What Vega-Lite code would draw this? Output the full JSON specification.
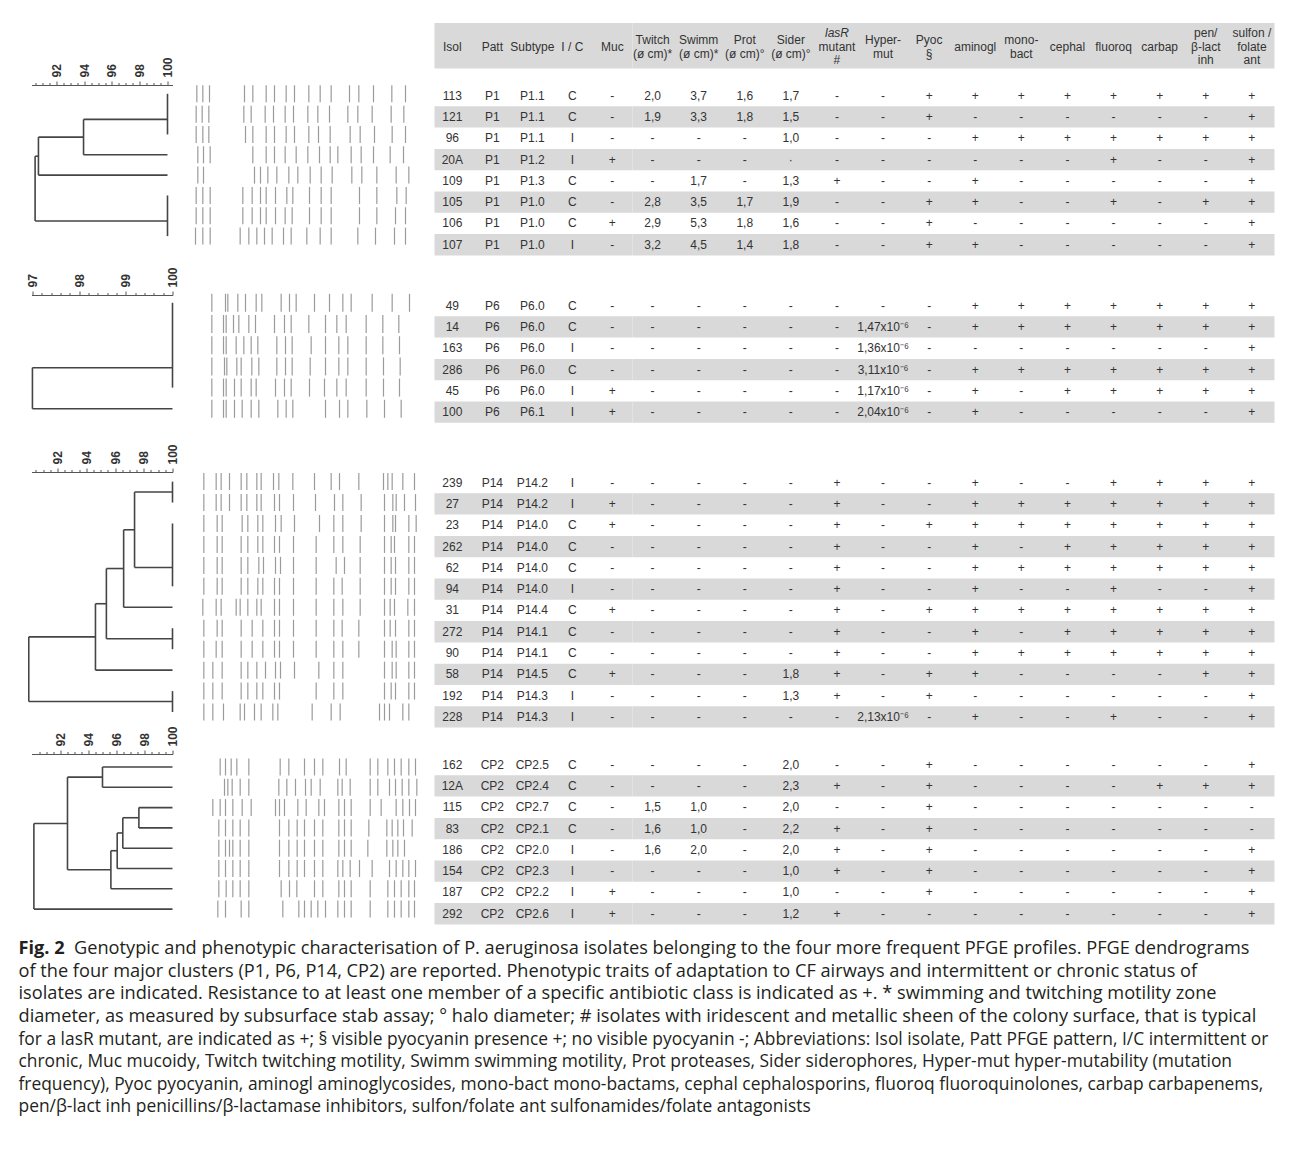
{
  "$schema": "https://vega.github.io/schema/vega-lite/v6.json",
  "padding": {"left": 18.5, "top": 23, "right": 10, "bottom": 10},
  "background": "white",
  "bounds": "flush",
  "columns": 4,
  "spacing": {"row": 16, "column": 0},
  "config": {"view": {"stroke": null}},
  "datasets": {
    "table": [
      {"Isol":"113","Patt":"P1","Subtype":"P1.1","IC":"C","Muc":"-","Twitch":"2,0","Swimm":"3,7","Prot":"1,6","Sider":"1,7","lasR":"-","Hyper":"-","Pyoc":"+","aminogl":"+","monobact":"+","cephal":"+","fluoroq":"+","carbap":"+","pen":"+","sulfon":"+"},
      {"Isol":"121","Patt":"P1","Subtype":"P1.1","IC":"C","Muc":"-","Twitch":"1,9","Swimm":"3,3","Prot":"1,8","Sider":"1,5","lasR":"-","Hyper":"-","Pyoc":"+","aminogl":"-","monobact":"-","cephal":"-","fluoroq":"-","carbap":"-","pen":"-","sulfon":"+"},
      {"Isol":"96","Patt":"P1","Subtype":"P1.1","IC":"I","Muc":"-","Twitch":"-","Swimm":"-","Prot":"-","Sider":"1,0","lasR":"-","Hyper":"-","Pyoc":"-","aminogl":"+","monobact":"+","cephal":"+","fluoroq":"+","carbap":"+","pen":"+","sulfon":"+"},
      {"Isol":"20A","Patt":"P1","Subtype":"P1.2","IC":"I","Muc":"+","Twitch":"-","Swimm":"-","Prot":"-","Sider":"·","lasR":"-","Hyper":"-","Pyoc":"-","aminogl":"-","monobact":"-","cephal":"-","fluoroq":"+","carbap":"-","pen":"-","sulfon":"+"},
      {"Isol":"109","Patt":"P1","Subtype":"P1.3","IC":"C","Muc":"-","Twitch":"-","Swimm":"1,7","Prot":"-","Sider":"1,3","lasR":"+","Hyper":"-","Pyoc":"-","aminogl":"+","monobact":"-","cephal":"-","fluoroq":"-","carbap":"-","pen":"-","sulfon":"+"},
      {"Isol":"105","Patt":"P1","Subtype":"P1.0","IC":"C","Muc":"-","Twitch":"2,8","Swimm":"3,5","Prot":"1,7","Sider":"1,9","lasR":"-","Hyper":"-","Pyoc":"+","aminogl":"+","monobact":"-","cephal":"-","fluoroq":"+","carbap":"-","pen":"+","sulfon":"+"},
      {"Isol":"106","Patt":"P1","Subtype":"P1.0","IC":"C","Muc":"+","Twitch":"2,9","Swimm":"5,3","Prot":"1,8","Sider":"1,6","lasR":"-","Hyper":"-","Pyoc":"+","aminogl":"-","monobact":"-","cephal":"-","fluoroq":"-","carbap":"-","pen":"-","sulfon":"+"},
      {"Isol":"107","Patt":"P1","Subtype":"P1.0","IC":"I","Muc":"-","Twitch":"3,2","Swimm":"4,5","Prot":"1,4","Sider":"1,8","lasR":"-","Hyper":"-","Pyoc":"+","aminogl":"+","monobact":"-","cephal":"-","fluoroq":"-","carbap":"-","pen":"-","sulfon":"+"},
      {"Isol":"49","Patt":"P6","Subtype":"P6.0","IC":"C","Muc":"-","Twitch":"-","Swimm":"-","Prot":"-","Sider":"-","lasR":"-","Hyper":"-","Pyoc":"-","aminogl":"+","monobact":"+","cephal":"+","fluoroq":"+","carbap":"+","pen":"+","sulfon":"+"},
      {"Isol":"14","Patt":"P6","Subtype":"P6.0","IC":"C","Muc":"-","Twitch":"-","Swimm":"-","Prot":"-","Sider":"-","lasR":"-","Hyper":"1,47x10⁻⁶","Pyoc":"-","aminogl":"+","monobact":"+","cephal":"+","fluoroq":"+","carbap":"+","pen":"+","sulfon":"+"},
      {"Isol":"163","Patt":"P6","Subtype":"P6.0","IC":"I","Muc":"-","Twitch":"-","Swimm":"-","Prot":"-","Sider":"-","lasR":"-","Hyper":"1,36x10⁻⁶","Pyoc":"-","aminogl":"-","monobact":"-","cephal":"-","fluoroq":"-","carbap":"-","pen":"-","sulfon":"+"},
      {"Isol":"286","Patt":"P6","Subtype":"P6.0","IC":"C","Muc":"-","Twitch":"-","Swimm":"-","Prot":"-","Sider":"-","lasR":"-","Hyper":"3,11x10⁻⁶","Pyoc":"-","aminogl":"+","monobact":"+","cephal":"+","fluoroq":"+","carbap":"+","pen":"+","sulfon":"+"},
      {"Isol":"45","Patt":"P6","Subtype":"P6.0","IC":"I","Muc":"+","Twitch":"-","Swimm":"-","Prot":"-","Sider":"-","lasR":"-","Hyper":"1,17x10⁻⁶","Pyoc":"-","aminogl":"+","monobact":"-","cephal":"+","fluoroq":"+","carbap":"+","pen":"+","sulfon":"+"},
      {"Isol":"100","Patt":"P6","Subtype":"P6.1","IC":"I","Muc":"+","Twitch":"-","Swimm":"-","Prot":"-","Sider":"-","lasR":"-","Hyper":"2,04x10⁻⁶","Pyoc":"-","aminogl":"+","monobact":"-","cephal":"-","fluoroq":"-","carbap":"-","pen":"-","sulfon":"+"},
      {"Isol":"239","Patt":"P14","Subtype":"P14.2","IC":"I","Muc":"-","Twitch":"-","Swimm":"-","Prot":"-","Sider":"-","lasR":"+","Hyper":"-","Pyoc":"-","aminogl":"+","monobact":"-","cephal":"-","fluoroq":"+","carbap":"+","pen":"+","sulfon":"+"},
      {"Isol":"27","Patt":"P14","Subtype":"P14.2","IC":"I","Muc":"+","Twitch":"-","Swimm":"-","Prot":"-","Sider":"-","lasR":"+","Hyper":"-","Pyoc":"-","aminogl":"+","monobact":"+","cephal":"+","fluoroq":"+","carbap":"+","pen":"+","sulfon":"+"},
      {"Isol":"23","Patt":"P14","Subtype":"P14.0","IC":"C","Muc":"+","Twitch":"-","Swimm":"-","Prot":"-","Sider":"-","lasR":"+","Hyper":"-","Pyoc":"+","aminogl":"+","monobact":"+","cephal":"+","fluoroq":"+","carbap":"+","pen":"+","sulfon":"+"},
      {"Isol":"262","Patt":"P14","Subtype":"P14.0","IC":"C","Muc":"-","Twitch":"-","Swimm":"-","Prot":"-","Sider":"-","lasR":"+","Hyper":"-","Pyoc":"-","aminogl":"+","monobact":"-","cephal":"+","fluoroq":"+","carbap":"+","pen":"+","sulfon":"+"},
      {"Isol":"62","Patt":"P14","Subtype":"P14.0","IC":"C","Muc":"-","Twitch":"-","Swimm":"-","Prot":"-","Sider":"-","lasR":"+","Hyper":"-","Pyoc":"-","aminogl":"+","monobact":"+","cephal":"+","fluoroq":"+","carbap":"+","pen":"+","sulfon":"+"},
      {"Isol":"94","Patt":"P14","Subtype":"P14.0","IC":"I","Muc":"-","Twitch":"-","Swimm":"-","Prot":"-","Sider":"-","lasR":"+","Hyper":"-","Pyoc":"-","aminogl":"+","monobact":"-","cephal":"-","fluoroq":"+","carbap":"-","pen":"-","sulfon":"+"},
      {"Isol":"31","Patt":"P14","Subtype":"P14.4","IC":"C","Muc":"+","Twitch":"-","Swimm":"-","Prot":"-","Sider":"-","lasR":"+","Hyper":"-","Pyoc":"+","aminogl":"+","monobact":"+","cephal":"+","fluoroq":"+","carbap":"+","pen":"+","sulfon":"+"},
      {"Isol":"272","Patt":"P14","Subtype":"P14.1","IC":"C","Muc":"-","Twitch":"-","Swimm":"-","Prot":"-","Sider":"-","lasR":"+","Hyper":"-","Pyoc":"-","aminogl":"+","monobact":"-","cephal":"+","fluoroq":"+","carbap":"+","pen":"+","sulfon":"+"},
      {"Isol":"90","Patt":"P14","Subtype":"P14.1","IC":"C","Muc":"-","Twitch":"-","Swimm":"-","Prot":"-","Sider":"-","lasR":"+","Hyper":"-","Pyoc":"-","aminogl":"+","monobact":"+","cephal":"+","fluoroq":"+","carbap":"+","pen":"+","sulfon":"+"},
      {"Isol":"58","Patt":"P14","Subtype":"P14.5","IC":"C","Muc":"+","Twitch":"-","Swimm":"-","Prot":"-","Sider":"1,8","lasR":"+","Hyper":"-","Pyoc":"+","aminogl":"+","monobact":"-","cephal":"-","fluoroq":"-","carbap":"-","pen":"+","sulfon":"+"},
      {"Isol":"192","Patt":"P14","Subtype":"P14.3","IC":"I","Muc":"-","Twitch":"-","Swimm":"-","Prot":"-","Sider":"1,3","lasR":"+","Hyper":"-","Pyoc":"+","aminogl":"-","monobact":"-","cephal":"-","fluoroq":"-","carbap":"-","pen":"-","sulfon":"+"},
      {"Isol":"228","Patt":"P14","Subtype":"P14.3","IC":"I","Muc":"-","Twitch":"-","Swimm":"-","Prot":"-","Sider":"-","lasR":"-","Hyper":"2,13x10⁻⁶","Pyoc":"-","aminogl":"+","monobact":"-","cephal":"-","fluoroq":"+","carbap":"-","pen":"-","sulfon":"+"},
      {"Isol":"162","Patt":"CP2","Subtype":"CP2.5","IC":"C","Muc":"-","Twitch":"-","Swimm":"-","Prot":"-","Sider":"2,0","lasR":"-","Hyper":"-","Pyoc":"+","aminogl":"-","monobact":"-","cephal":"-","fluoroq":"-","carbap":"-","pen":"-","sulfon":"+"},
      {"Isol":"12A","Patt":"CP2","Subtype":"CP2.4","IC":"C","Muc":"-","Twitch":"-","Swimm":"-","Prot":"-","Sider":"2,3","lasR":"+","Hyper":"-","Pyoc":"+","aminogl":"-","monobact":"-","cephal":"-","fluoroq":"-","carbap":"+","pen":"+","sulfon":"+"},
      {"Isol":"115","Patt":"CP2","Subtype":"CP2.7","IC":"C","Muc":"-","Twitch":"1,5","Swimm":"1,0","Prot":"-","Sider":"2,0","lasR":"-","Hyper":"-","Pyoc":"+","aminogl":"-","monobact":"-","cephal":"-","fluoroq":"-","carbap":"-","pen":"-","sulfon":"-"},
      {"Isol":"83","Patt":"CP2","Subtype":"CP2.1","IC":"C","Muc":"-","Twitch":"1,6","Swimm":"1,0","Prot":"-","Sider":"2,2","lasR":"+","Hyper":"-","Pyoc":"+","aminogl":"-","monobact":"-","cephal":"-","fluoroq":"-","carbap":"-","pen":"-","sulfon":"-"},
      {"Isol":"186","Patt":"CP2","Subtype":"CP2.0","IC":"I","Muc":"-","Twitch":"1,6","Swimm":"2,0","Prot":"-","Sider":"2,0","lasR":"+","Hyper":"-","Pyoc":"+","aminogl":"-","monobact":"-","cephal":"-","fluoroq":"-","carbap":"-","pen":"-","sulfon":"+"},
      {"Isol":"154","Patt":"CP2","Subtype":"CP2.3","IC":"I","Muc":"-","Twitch":"-","Swimm":"-","Prot":"-","Sider":"1,0","lasR":"+","Hyper":"-","Pyoc":"+","aminogl":"-","monobact":"-","cephal":"-","fluoroq":"-","carbap":"-","pen":"-","sulfon":"+"},
      {"Isol":"187","Patt":"CP2","Subtype":"CP2.2","IC":"I","Muc":"+","Twitch":"-","Swimm":"-","Prot":"-","Sider":"1,0","lasR":"-","Hyper":"-","Pyoc":"+","aminogl":"-","monobact":"-","cephal":"-","fluoroq":"-","carbap":"-","pen":"-","sulfon":"+"},
      {"Isol":"292","Patt":"CP2","Subtype":"CP2.6","IC":"I","Muc":"+","Twitch":"-","Swimm":"-","Prot":"-","Sider":"1,2","lasR":"+","Hyper":"-","Pyoc":"-","aminogl":"-","monobact":"-","cephal":"-","fluoroq":"-","carbap":"-","pen":"-","sulfon":"+"}
    ],
    "header": [
      {"key":"Isol","g":"A","label":"Isol"},
      {"key":"Patt","g":"A","label":"Patt"},
      {"key":"Subtype","g":"A","label":"Subtype"},
      {"key":"IC","g":"A","label":"I / C"},
      {"key":"Muc","g":"A","label":"Muc"},
      {"key":"Twitch","g":"B","label":"Twitch\n(ø cm)*"},
      {"key":"Swimm","g":"B","label":"Swimm\n(ø cm)*"},
      {"key":"Prot","g":"B","label":"Prot\n(ø cm)°"},
      {"key":"Sider","g":"B","label":"Sider\n(ø cm)°"},
      {"key":"lasR","g":"B","label":"\nmutant\n#","it":"lasR"},
      {"key":"Hyper","g":"B","label":"Hyper-\nmut"},
      {"key":"Pyoc","g":"B","label":"Pyoc\n§"},
      {"key":"aminogl","g":"B","label":"aminogl"},
      {"key":"monobact","g":"B","label":"mono-\nbact"},
      {"key":"cephal","g":"B","label":"cephal"},
      {"key":"fluoroq","g":"B","label":"fluoroq"},
      {"key":"carbap","g":"B","label":"carbap"},
      {"key":"pen","g":"B","label":"pen/\nβ-lact\ninh"},
      {"key":"sulfon","g":"B","label":"sulfon /\nfolate\nant"}
    ],
    "dend": [
      {"c":"P1","x1":100,"x2":100,"y1":0,"y2":2},
      {"c":"P1","x1":93.95,"x2":100,"y1":1.26,"y2":1.26},
      {"c":"P1","x1":93.95,"x2":100,"y1":3,"y2":3},
      {"c":"P1","x1":93.95,"x2":93.95,"y1":1.26,"y2":3},
      {"c":"P1","x1":90.7,"x2":93.95,"y1":2.13,"y2":2.13},
      {"c":"P1","x1":90.7,"x2":100,"y1":4,"y2":4},
      {"c":"P1","x1":90.7,"x2":90.7,"y1":2.13,"y2":4},
      {"c":"P1","x1":90.46,"x2":90.7,"y1":3.07,"y2":3.07},
      {"c":"P1","x1":100,"x2":100,"y1":5,"y2":7},
      {"c":"P1","x1":90.46,"x2":100,"y1":6.26,"y2":6.26},
      {"c":"P1","x1":90.46,"x2":90.46,"y1":3.07,"y2":6.26},
      {"c":"P6","x1":100,"x2":100,"y1":0,"y2":4},
      {"c":"P6","x1":97,"x2":100,"y1":3.06,"y2":3.06},
      {"c":"P6","x1":97,"x2":100,"y1":5,"y2":5},
      {"c":"P6","x1":97,"x2":97,"y1":3.06,"y2":5},
      {"c":"P14","x1":100,"x2":100,"y1":0,"y2":1},
      {"c":"P14","x1":97.36,"x2":100,"y1":0.5,"y2":0.5},
      {"c":"P14","x1":100,"x2":100,"y1":2,"y2":5},
      {"c":"P14","x1":97.36,"x2":100,"y1":4.1,"y2":4.1},
      {"c":"P14","x1":97.36,"x2":97.36,"y1":0.5,"y2":4.1},
      {"c":"P14","x1":96.6,"x2":97.36,"y1":2.3,"y2":2.3},
      {"c":"P14","x1":96.6,"x2":100,"y1":6,"y2":6},
      {"c":"P14","x1":96.6,"x2":96.6,"y1":2.3,"y2":6},
      {"c":"P14","x1":95.4,"x2":96.6,"y1":4.15,"y2":4.15},
      {"c":"P14","x1":100,"x2":100,"y1":7,"y2":8},
      {"c":"P14","x1":95.4,"x2":100,"y1":7.5,"y2":7.5},
      {"c":"P14","x1":95.4,"x2":95.4,"y1":4.15,"y2":7.5},
      {"c":"P14","x1":94.64,"x2":95.4,"y1":5.83,"y2":5.83},
      {"c":"P14","x1":94.64,"x2":100,"y1":9,"y2":9},
      {"c":"P14","x1":94.64,"x2":94.64,"y1":5.83,"y2":9},
      {"c":"P14","x1":90.0,"x2":94.64,"y1":7.41,"y2":7.41},
      {"c":"P14","x1":100,"x2":100,"y1":10,"y2":11},
      {"c":"P14","x1":90.0,"x2":100,"y1":10.5,"y2":10.5},
      {"c":"P14","x1":90.0,"x2":90.0,"y1":7.41,"y2":10.5},
      {"c":"CP2","x1":95.0,"x2":100,"y1":0,"y2":0},
      {"c":"CP2","x1":95.0,"x2":100,"y1":1,"y2":1},
      {"c":"CP2","x1":95.0,"x2":95.0,"y1":0,"y2":1},
      {"c":"CP2","x1":97.6,"x2":100,"y1":2,"y2":2},
      {"c":"CP2","x1":97.6,"x2":100,"y1":3,"y2":3},
      {"c":"CP2","x1":97.6,"x2":97.6,"y1":2,"y2":3},
      {"c":"CP2","x1":96.45,"x2":97.6,"y1":2.5,"y2":2.5},
      {"c":"CP2","x1":96.45,"x2":100,"y1":4,"y2":4},
      {"c":"CP2","x1":96.45,"x2":96.45,"y1":2.5,"y2":4},
      {"c":"CP2","x1":96.05,"x2":96.45,"y1":3.25,"y2":3.25},
      {"c":"CP2","x1":96.05,"x2":100,"y1":5,"y2":5},
      {"c":"CP2","x1":96.05,"x2":96.05,"y1":3.25,"y2":5},
      {"c":"CP2","x1":95.6,"x2":96.05,"y1":4.125,"y2":4.125},
      {"c":"CP2","x1":95.6,"x2":100,"y1":6,"y2":6},
      {"c":"CP2","x1":95.6,"x2":95.6,"y1":4.125,"y2":6},
      {"c":"CP2","x1":92.5,"x2":95.0,"y1":0.5,"y2":0.5},
      {"c":"CP2","x1":92.5,"x2":95.6,"y1":5.06,"y2":5.06},
      {"c":"CP2","x1":92.5,"x2":92.5,"y1":0.5,"y2":5.06},
      {"c":"CP2","x1":90.1,"x2":92.5,"y1":2.78,"y2":2.78},
      {"c":"CP2","x1":90.1,"x2":100,"y1":7,"y2":7},
      {"c":"CP2","x1":90.1,"x2":90.1,"y1":2.78,"y2":7}
    ],
    "bands": [
      {"c":"P1","i":0,"b":[592,610,630,735,760,800,825,860,885,928,962,995,1050,1078,1122,1177,1218]},
      {"c":"P1","i":1,"b":[590,608,628,733,755,797,822,857,882,925,955,990,1045,1075,1118,1175,1213]},
      {"c":"P1","i":2,"b":[590,610,628,738,760,800,825,860,885,928,957,992,1052,1082,1125,1178,1218]},
      {"c":"P1","i":3,"b":[595,612,632,760,800,825,857,890,925,960,992,1015,1055,1085,1122,1172,1212]},
      {"c":"P1","i":4,"b":[595,612,765,783,805,832,868,895,932,965,998,1057,1087,1132,1190,1228]},
      {"c":"P1","i":5,"b":[590,610,632,730,758,783,800,828,862,880,930,965,995,1080,1132,1192,1220]},
      {"c":"P1","i":6,"b":[590,610,632,730,758,783,800,828,857,878,930,965,995,1080,1132,1188,1218]},
      {"c":"P1","i":7,"b":[588,610,632,722,748,772,795,818,852,875,922,962,995,1075,1128,1185,1218]},
      {"c":"P6","i":0,"b":[637,678,685,715,738,770,787,845,870,890,945,990,1030,1055,1118,1178,1230]},
      {"c":"P6","i":1,"b":[637,672,680,702,718,748,768,825,855,875,928,978,1012,1040,1100,1150,1198]},
      {"c":"P6","i":2,"b":[637,672,680,710,733,755,775,832,858,878,935,978,1018,1045,1100,1150,1200]},
      {"c":"P6","i":3,"b":[637,675,682,712,725,757,778,832,858,878,932,978,1018,1045,1100,1152,1202]},
      {"c":"P6","i":4,"b":[637,672,680,705,725,755,770,828,855,875,930,975,1012,1040,1100,1152,1200]},
      {"c":"P6","i":5,"b":[637,672,680,705,728,755,778,835,860,880,978,1020,1045,1102,1155,1205]},
      {"c":"P14","i":0,"b":[613,650,665,690,725,742,772,785,822,838,880,945,995,1020,1078,1152,1165,1178,1210,1245]},
      {"c":"P14","i":1,"b":[613,650,665,690,725,742,772,785,825,840,882,948,1005,1030,1085,1155,1180,1190,1215,1248]},
      {"c":"P14","i":2,"b":[613,653,668,728,745,775,790,828,845,885,960,1003,1030,1085,1155,1180,1188,1228,1250]},
      {"c":"P14","i":3,"b":[613,653,668,725,745,775,790,825,840,882,950,1003,1030,1082,1155,1175,1185,1228,1245]},
      {"c":"P14","i":4,"b":[613,653,668,725,745,778,792,828,843,882,950,1010,1035,1082,1155,1175,1188,1228,1245]},
      {"c":"P14","i":5,"b":[613,653,668,725,745,775,790,825,840,882,950,1003,1028,1082,1155,1175,1188,1228,1245]},
      {"c":"P14","i":6,"b":[610,650,665,710,722,745,772,785,825,840,882,950,1003,1030,1082,1155,1172,1185,1225,1245]},
      {"c":"P14","i":7,"b":[613,653,668,725,758,790,825,840,882,950,1003,1028,1078,1155,1172,1188,1228,1245]},
      {"c":"P14","i":8,"b":[613,650,668,725,758,790,825,840,882,950,1003,1030,1078,1155,1178,1190,1228,1245]},
      {"c":"P14","i":9,"b":[613,640,668,725,745,772,798,828,843,885,958,1003,1030,1155,1178,1190,1228,1245]},
      {"c":"P14","i":10,"b":[613,640,668,725,745,772,790,825,840,950,1003,1030,1155,1175,1188,1228,1245]},
      {"c":"P14","i":11,"b":[613,640,672,722,735,765,785,820,835,938,995,1022,1140,1155,1170,1210,1228]},
      {"c":"CP2","i":0,"b":[662,678,695,712,748,842,868,915,945,970,1020,1040,1112,1135,1165,1185,1205,1228,1248]},
      {"c":"CP2","i":1,"b":[675,685,698,722,748,838,862,888,918,935,962,1015,1028,1052,1112,1135,1170,1188,1208,1228,1252]},
      {"c":"CP2","i":2,"b":[640,662,678,700,728,755,828,840,855,895,920,958,975,1018,1035,1055,1112,1145,1190,1210,1230,1248]},
      {"c":"CP2","i":3,"b":[658,678,700,722,748,840,868,893,915,945,970,1018,1035,1055,1108,1162,1178,1195,1212,1238]},
      {"c":"CP2","i":4,"b":[658,678,690,700,722,748,840,868,893,915,945,970,1018,1035,1055,1105,1162,1180,1195,1215]},
      {"c":"CP2","i":5,"b":[658,678,700,722,748,840,868,893,915,945,970,1015,1030,1052,1080,1118,1170,1190,1210,1228,1248]},
      {"c":"CP2","i":6,"b":[658,680,700,722,748,845,870,892,945,970,1018,1035,1055,1112,1165,1185,1205,1228,1245]},
      {"c":"CP2","i":7,"b":[655,678,725,748,850,898,915,935,955,978,1015,1035,1055,1112,1165,1185,1205,1228,1245]}
    ],
    "caption": [
      {"line":1,"fig":"Fig. 2","text":"Genotypic and phenotypic characterisation of P. aeruginosa isolates belonging to the four more frequent PFGE profiles. PFGE dendrograms"},
      {"line":2,"text":"of the four major clusters (P1, P6, P14, CP2) are reported. Phenotypic traits of adaptation to CF airways and intermittent or chronic status of"},
      {"line":3,"text":"isolates are indicated. Resistance to at least one member of a specific antibiotic class is indicated as +. * swimming and twitching motility zone"},
      {"line":4,"text":"diameter, as measured by subsurface stab assay; ° halo diameter; # isolates with iridescent and metallic sheen of the colony surface, that is typical"},
      {"line":5,"text":"for a lasR mutant, are indicated as +; § visible pyocyanin presence +; no visible pyocyanin -; Abbreviations: Isol isolate, Patt PFGE pattern, I/C intermittent or"},
      {"line":6,"text":"chronic, Muc mucoidy, Twitch twitching motility, Swimm swimming motility, Prot proteases, Sider siderophores, Hyper-mut hyper-mutability (mutation"},
      {"line":7,"text":"frequency), Pyoc pyocyanin, aminogl aminoglycosides, mono-bact mono-bactams, cephal cephalosporins, fluoroq fluoroquinolones, carbap carbapenems,"},
      {"line":8,"text":"pen/β-lact inh penicillins/β-lactamase inhibitors, sulfon/folate ant sulfonamides/folate antagonists"}
    ]
  },
  "concat": [
    {"width": 141, "height": 45.5, "data": {"values": []}, "mark": "point"},
    {"width": 262, "height": 45.5, "data": {"values": []}, "mark": "point"},
    {"width": 198, "height": 45.5, "view": {"fill": "#d9d9d9", "stroke": null},
     "data": {"name": "header"}, "transform": [{"filter": "datum.g == 'A'"}],
     "mark": {"type": "text", "font": "Liberation Sans", "fontSize": 12, "color": "#333333", "baseline": "middle", "dy": 1},
     "encoding": {
       "x": {"field": "key", "type": "nominal", "scale": {"type": "point", "domain": ["Isol","Patt","Subtype","IC","Muc"], "padding": 0.475, "align": 0.47}, "axis": null},
       "text": {"field": "label"}}},
    {"width": 642, "height": 45.5, "view": {"fill": "#d9d9d9", "stroke": null},
     "data": {"name": "header"}, "transform": [{"filter": "datum.g == 'B'"}],
     "encoding": {
       "x": {"field": "key", "type": "nominal", "scale": {"type": "point", "domain": ["Twitch","Swimm","Prot","Sider","lasR","Hyper","Pyoc","aminogl","monobact","cephal","fluoroq","carbap","pen","sulfon"], "padding": 0.463, "align": 0.47}, "axis": null}},
     "layer": [
       {"transform": [{"filter": "indexof(datum.label, '\\n') < 0"}],
        "mark": {"type": "text", "font": "Liberation Sans", "fontSize": 12, "color": "#333333", "baseline": "middle", "dy": 1},
        "encoding": {"text": {"field": "label"}}},
       {"transform": [{"filter": "indexof(datum.label, '\\n') >= 0 && indexof(datum.label, '\\n') == lastindexof(datum.label, '\\n')"}],
        "mark": {"type": "text", "font": "Liberation Sans", "fontSize": 12, "color": "#333333", "lineBreak": "\n", "lineHeight": 13.5, "baseline": "middle", "dy": -5.75},
        "encoding": {"text": {"field": "label"}}},
       {"transform": [{"filter": "indexof(datum.label, '\\n') >= 0 && indexof(datum.label, '\\n') != lastindexof(datum.label, '\\n')"}],
        "mark": {"type": "text", "font": "Liberation Sans", "fontSize": 12, "color": "#333333", "lineBreak": "\n", "lineHeight": 13.5, "baseline": "middle", "dy": -12.5},
        "encoding": {"text": {"field": "label"}}},
       {"transform": [{"filter": "datum.it"}],
        "mark": {"type": "text", "font": "Liberation Sans", "fontSize": 12, "fontStyle": "italic", "color": "#333333", "baseline": "middle", "dy": -12.5},
        "encoding": {"text": {"field": "it"}}}
     ]},

    {"width": 141, "height": 193.2, "data": {"name": "dend"}, "transform": [{"filter": "datum.c == 'P1'"}],
     "mark": {"type": "rule", "color": "#454545", "strokeWidth": 1.6},
     "encoding": {
       "x": {"field": "x1", "type": "quantitative", "scale": {"domain": [90.2, 100.36], "nice": false, "zero": false},
             "axis": {"orient": "top", "title": null, "grid": false, "values": [90.5,91,91.5,92,92.5,93,93.5,94,94.5,95,95.5,96,96.5,97,97.5,98,98.5,99,99.5,100],
                      "labelExpr": "datum.value % 2 == 0 ? datum.value : ''", "labelAngle": -90, "labelOverlap": false, "labelFlush": false,
                      "labelFont": "Liberation Sans", "labelFontSize": 12, "labelFontWeight": "bold", "labelColor": "#333333", "labelPadding": 4,
                      "tickSize": {"condition": {"test": "datum.value % 2 == 0", "value": 4}, "value": 2.5},
                      "tickColor": "#555555", "domainColor": "#555555", "tickWidth": 1, "domainWidth": 1}},
       "x2": {"field": "x2"},
       "y": {"field": "y1", "type": "quantitative", "scale": {"domain": [-0.433, 9.07], "reverse": true, "nice": false, "zero": false}, "axis": null},
       "y2": {"field": "y2"}}},
    {"width": 262, "height": 193.2, "data": {"name": "bands"}, "transform": [{"filter": "datum.c == 'P1'"}, {"flatten": ["b"]}],
     "mark": {"type": "tick", "orient": "vertical", "color": "#9b9b9b", "size": 17, "thickness": 1.2, "opacity": 1},
     "encoding": {
       "x": {"field": "b", "type": "quantitative", "scale": {"domain": [519, 1305], "nice": false, "zero": false}, "axis": null},
       "y": {"field": "i", "type": "quantitative", "scale": {"domain": [-0.433, 9.07], "reverse": true, "nice": false, "zero": false}, "axis": null}}},
    {"width": 198, "height": 193.2, "data": {"name": "table"}, "transform": [{"filter": "datum.Patt == 'P1'"}, {"window": [{"op": "row_number", "as": "rn"}]}],
     "encoding": {"y": {"field": "rn", "type": "ordinal", "axis": null, "scale": {"paddingInner": 0, "paddingOuter": 0.535, "align": 0}}},
     "layer": [
       {"mark": {"type": "rect", "color": "#d9d9d9"}, "encoding": {"opacity": {"condition": {"test": "datum.rn % 2 == 0", "value": 1}, "value": 0}}},
       {"transform": [{"fold": ["Isol","Patt","Subtype","IC","Muc"], "as": ["key","value"]}],
        "mark": {"type": "text", "font": "Liberation Sans", "fontSize": 12, "color": "#333333", "baseline": "middle"},
        "encoding": {"x": {"field": "key", "type": "nominal", "scale": {"type": "point", "domain": ["Isol","Patt","Subtype","IC","Muc"], "padding": 0.475, "align": 0.47}, "axis": null}, "text": {"field": "value"}}}
     ]},
    {"width": 642, "height": 193.2, "data": {"name": "table"}, "transform": [{"filter": "datum.Patt == 'P1'"}, {"window": [{"op": "row_number", "as": "rn"}]}],
     "encoding": {"y": {"field": "rn", "type": "ordinal", "axis": null, "scale": {"paddingInner": 0, "paddingOuter": 0.535, "align": 0}}},
     "layer": [
       {"mark": {"type": "rect", "color": "#d9d9d9"}, "encoding": {"opacity": {"condition": {"test": "datum.rn % 2 == 0", "value": 1}, "value": 0}}},
       {"transform": [{"fold": ["Twitch","Swimm","Prot","Sider","lasR","Hyper","Pyoc","aminogl","monobact","cephal","fluoroq","carbap","pen","sulfon"], "as": ["key","value"]}],
        "mark": {"type": "text", "font": "Liberation Sans", "fontSize": 12, "color": "#333333", "baseline": "middle"},
        "encoding": {"x": {"field": "key", "type": "nominal", "scale": {"type": "point", "domain": ["Twitch","Swimm","Prot","Sider","lasR","Hyper","Pyoc","aminogl","monobact","cephal","fluoroq","carbap","pen","sulfon"], "padding": 0.463, "align": 0.47}, "axis": null}, "text": {"field": "value"}}}
     ]},

    {"width": 141, "height": 160.7, "data": {"name": "dend"}, "transform": [{"filter": "datum.c == 'P6'"}],
     "mark": {"type": "rule", "color": "#454545", "strokeWidth": 1.6},
     "encoding": {
       "x": {"field": "x1", "type": "quantitative", "scale": {"domain": [96.98, 100], "nice": false, "zero": false},
             "axis": {"orient": "top", "title": null, "grid": false, "values": [97,97.2,97.4,97.6,97.8,98,98.2,98.4,98.6,98.8,99,99.2,99.4,99.6,99.8,100],
                      "labelExpr": "datum.value % 1 == 0 ? datum.value : ''", "labelAngle": -90, "labelOverlap": false, "labelFlush": false,
                      "labelFont": "Liberation Sans", "labelFontSize": 12, "labelFontWeight": "bold", "labelColor": "#333333", "labelPadding": 4,
                      "tickSize": {"condition": {"test": "datum.value % 1 == 0", "value": 4}, "value": 2.5},
                      "tickColor": "#555555", "domainColor": "#555555", "tickWidth": 1, "domainWidth": 1}},
       "x2": {"field": "x2"},
       "y": {"field": "y1", "type": "quantitative", "scale": {"domain": [-0.368, 7.212], "reverse": true, "nice": false, "zero": false}, "axis": null},
       "y2": {"field": "y2"}}},
    {"width": 262, "height": 160.7, "data": {"name": "bands"}, "transform": [{"filter": "datum.c == 'P6'"}, {"flatten": ["b"]}],
     "mark": {"type": "tick", "orient": "vertical", "color": "#9b9b9b", "size": 18, "thickness": 1.2, "opacity": 1},
     "encoding": {
       "x": {"field": "b", "type": "quantitative", "scale": {"domain": [519, 1305], "nice": false, "zero": false}, "axis": null},
       "y": {"field": "i", "type": "quantitative", "scale": {"domain": [-0.368, 7.212], "reverse": true, "nice": false, "zero": false}, "axis": null}}},
    {"width": 198, "height": 160.7, "data": {"name": "table"}, "transform": [{"filter": "datum.Patt == 'P6'"}, {"window": [{"op": "row_number", "as": "rn"}]}],
     "encoding": {"y": {"field": "rn", "type": "ordinal", "axis": null, "scale": {"paddingInner": 0, "paddingOuter": 0.772, "align": 0}}},
     "layer": [
       {"mark": {"type": "rect", "color": "#d9d9d9"}, "encoding": {"opacity": {"condition": {"test": "datum.rn % 2 == 0", "value": 1}, "value": 0}}},
       {"transform": [{"fold": ["Isol","Patt","Subtype","IC","Muc"], "as": ["key","value"]}],
        "mark": {"type": "text", "font": "Liberation Sans", "fontSize": 12, "color": "#333333", "baseline": "middle"},
        "encoding": {"x": {"field": "key", "type": "nominal", "scale": {"type": "point", "domain": ["Isol","Patt","Subtype","IC","Muc"], "padding": 0.475, "align": 0.47}, "axis": null}, "text": {"field": "value"}}}
     ]},
    {"width": 642, "height": 160.7, "data": {"name": "table"}, "transform": [{"filter": "datum.Patt == 'P6'"}, {"window": [{"op": "row_number", "as": "rn"}]}],
     "encoding": {"y": {"field": "rn", "type": "ordinal", "axis": null, "scale": {"paddingInner": 0, "paddingOuter": 0.772, "align": 0}}},
     "layer": [
       {"mark": {"type": "rect", "color": "#d9d9d9"}, "encoding": {"opacity": {"condition": {"test": "datum.rn % 2 == 0", "value": 1}, "value": 0}}},
       {"transform": [{"fold": ["Twitch","Swimm","Prot","Sider","lasR","Hyper","Pyoc","aminogl","monobact","cephal","fluoroq","carbap","pen","sulfon"], "as": ["key","value"]}],
        "mark": {"type": "text", "font": "Liberation Sans", "fontSize": 12, "color": "#333333", "baseline": "middle"},
        "encoding": {"x": {"field": "key", "type": "nominal", "scale": {"type": "point", "domain": ["Twitch","Swimm","Prot","Sider","lasR","Hyper","Pyoc","aminogl","monobact","cephal","fluoroq","carbap","pen","sulfon"], "padding": 0.463, "align": 0.47}, "axis": null}, "text": {"field": "value"}}}
     ]},

    {"width": 141, "height": 265.6, "data": {"name": "dend"}, "transform": [{"filter": "datum.c == 'P14'"}],
     "mark": {"type": "rule", "color": "#454545", "strokeWidth": 1.6},
     "encoding": {
       "x": {"field": "x1", "type": "quantitative", "scale": {"domain": [90.19, 100], "nice": false, "zero": false},
             "axis": {"orient": "top", "title": null, "grid": false, "values": [90.5,91,91.5,92,92.5,93,93.5,94,94.5,95,95.5,96,96.5,97,97.5,98,98.5,99,99.5,100],
                      "labelExpr": "datum.value % 2 == 0 ? datum.value : ''", "labelAngle": -90, "labelOverlap": false, "labelFlush": false,
                      "labelFont": "Liberation Sans", "labelFontSize": 12, "labelFontWeight": "bold", "labelColor": "#333333", "labelPadding": 4,
                      "tickSize": {"condition": {"test": "datum.value % 2 == 0", "value": 4}, "value": 2.5},
                      "tickColor": "#555555", "domainColor": "#555555", "tickWidth": 1, "domainWidth": 1}},
       "x2": {"field": "x2"},
       "y": {"field": "y1", "type": "quantitative", "scale": {"domain": [-0.458, 12.22], "reverse": true, "nice": false, "zero": false}, "axis": null},
       "y2": {"field": "y2"}}},
    {"width": 262, "height": 265.6, "data": {"name": "bands"}, "transform": [{"filter": "datum.c == 'P14'"}, {"flatten": ["b"]}],
     "mark": {"type": "tick", "orient": "vertical", "color": "#9b9b9b", "size": 17, "thickness": 1.2, "opacity": 1},
     "encoding": {
       "x": {"field": "b", "type": "quantitative", "scale": {"domain": [519, 1305], "nice": false, "zero": false}, "axis": null},
       "y": {"field": "i", "type": "quantitative", "scale": {"domain": [-0.458, 12.22], "reverse": true, "nice": false, "zero": false}, "axis": null}}},
    {"width": 198, "height": 265.6, "data": {"name": "table"}, "transform": [{"filter": "datum.Patt == 'P14'"}, {"window": [{"op": "row_number", "as": "rn"}]}],
     "encoding": {"y": {"field": "rn", "type": "ordinal", "axis": null, "scale": {"paddingInner": 0, "paddingOuter": 0.235, "align": 0}}},
     "layer": [
       {"mark": {"type": "rect", "color": "#d9d9d9"}, "encoding": {"opacity": {"condition": {"test": "datum.rn % 2 == 0", "value": 1}, "value": 0}}},
       {"transform": [{"fold": ["Isol","Patt","Subtype","IC","Muc"], "as": ["key","value"]}],
        "mark": {"type": "text", "font": "Liberation Sans", "fontSize": 12, "color": "#333333", "baseline": "middle"},
        "encoding": {"x": {"field": "key", "type": "nominal", "scale": {"type": "point", "domain": ["Isol","Patt","Subtype","IC","Muc"], "padding": 0.475, "align": 0.47}, "axis": null}, "text": {"field": "value"}}}
     ]},
    {"width": 642, "height": 265.6, "data": {"name": "table"}, "transform": [{"filter": "datum.Patt == 'P14'"}, {"window": [{"op": "row_number", "as": "rn"}]}],
     "encoding": {"y": {"field": "rn", "type": "ordinal", "axis": null, "scale": {"paddingInner": 0, "paddingOuter": 0.235, "align": 0}}},
     "layer": [
       {"mark": {"type": "rect", "color": "#d9d9d9"}, "encoding": {"opacity": {"condition": {"test": "datum.rn % 2 == 0", "value": 1}, "value": 0}}},
       {"transform": [{"fold": ["Twitch","Swimm","Prot","Sider","lasR","Hyper","Pyoc","aminogl","monobact","cephal","fluoroq","carbap","pen","sulfon"], "as": ["key","value"]}],
        "mark": {"type": "text", "font": "Liberation Sans", "fontSize": 12, "color": "#333333", "baseline": "middle"},
        "encoding": {"x": {"field": "key", "type": "nominal", "scale": {"type": "point", "domain": ["Twitch","Swimm","Prot","Sider","lasR","Hyper","Pyoc","aminogl","monobact","cephal","fluoroq","carbap","pen","sulfon"], "padding": 0.463, "align": 0.47}, "axis": null}, "text": {"field": "value"}}}
     ]},

    {"width": 141, "height": 170.4, "data": {"name": "dend"}, "transform": [{"filter": "datum.c == 'CP2'"}],
     "mark": {"type": "rule", "color": "#454545", "strokeWidth": 1.6},
     "encoding": {
       "x": {"field": "x1", "type": "quantitative", "scale": {"domain": [89.93, 100], "nice": false, "zero": false},
             "axis": {"orient": "top", "title": null, "grid": false, "values": [90.5,91,91.5,92,92.5,93,93.5,94,94.5,95,95.5,96,96.5,97,97.5,98,98.5,99,99.5,100],
                      "labelExpr": "datum.value % 2 == 0 ? datum.value : ''", "labelAngle": -90, "labelOverlap": false, "labelFlush": false,
                      "labelFont": "Liberation Sans", "labelFontSize": 12, "labelFontWeight": "bold", "labelColor": "#333333", "labelPadding": 4,
                      "tickSize": {"condition": {"test": "datum.value % 2 == 0", "value": 4}, "value": 2.5},
                      "tickColor": "#555555", "domainColor": "#555555", "tickWidth": 1, "domainWidth": 1}},
       "x2": {"field": "x2"},
       "y": {"field": "y1", "type": "quantitative", "scale": {"domain": [-0.64, 7.754], "reverse": true, "nice": false, "zero": false}, "axis": null},
       "y2": {"field": "y2"}}},
    {"width": 262, "height": 170.4, "data": {"name": "bands"}, "transform": [{"filter": "datum.c == 'CP2'"}, {"flatten": ["b"]}],
     "mark": {"type": "tick", "orient": "vertical", "color": "#9b9b9b", "size": 17, "thickness": 1.2, "opacity": 1},
     "encoding": {
       "x": {"field": "b", "type": "quantitative", "scale": {"domain": [519, 1305], "nice": false, "zero": false}, "axis": null},
       "y": {"field": "i", "type": "quantitative", "scale": {"domain": [-0.64, 7.754], "reverse": true, "nice": false, "zero": false}, "axis": null}}},
    {"width": 198, "height": 170.4, "data": {"name": "table"}, "transform": [{"filter": "datum.Patt == 'CP2'"}, {"window": [{"op": "row_number", "as": "rn"}]}],
     "encoding": {"y": {"field": "rn", "type": "ordinal", "axis": null, "scale": {"paddingInner": 0, "paddingOuter": 0, "align": 0}}},
     "layer": [
       {"mark": {"type": "rect", "color": "#d9d9d9"}, "encoding": {"opacity": {"condition": {"test": "datum.rn % 2 == 0", "value": 1}, "value": 0}}},
       {"transform": [{"fold": ["Isol","Patt","Subtype","IC","Muc"], "as": ["key","value"]}],
        "mark": {"type": "text", "font": "Liberation Sans", "fontSize": 12, "color": "#333333", "baseline": "middle"},
        "encoding": {"x": {"field": "key", "type": "nominal", "scale": {"type": "point", "domain": ["Isol","Patt","Subtype","IC","Muc"], "padding": 0.475, "align": 0.47}, "axis": null}, "text": {"field": "value"}}}
     ]},
    {"width": 642, "height": 170.4, "data": {"name": "table"}, "transform": [{"filter": "datum.Patt == 'CP2'"}, {"window": [{"op": "row_number", "as": "rn"}]}],
     "encoding": {"y": {"field": "rn", "type": "ordinal", "axis": null, "scale": {"paddingInner": 0, "paddingOuter": 0, "align": 0}}},
     "layer": [
       {"mark": {"type": "rect", "color": "#d9d9d9"}, "encoding": {"opacity": {"condition": {"test": "datum.rn % 2 == 0", "value": 1}, "value": 0}}},
       {"transform": [{"fold": ["Twitch","Swimm","Prot","Sider","lasR","Hyper","Pyoc","aminogl","monobact","cephal","fluoroq","carbap","pen","sulfon"], "as": ["key","value"]}],
        "mark": {"type": "text", "font": "Liberation Sans", "fontSize": 12, "color": "#333333", "baseline": "middle"},
        "encoding": {"x": {"field": "key", "type": "nominal", "scale": {"type": "point", "domain": ["Twitch","Swimm","Prot","Sider","lasR","Hyper","Pyoc","aminogl","monobact","cephal","fluoroq","carbap","pen","sulfon"], "padding": 0.463, "align": 0.47}, "axis": null}, "text": {"field": "value"}}}
     ]},

    {"width": 0, "height": 180.5, "data": {"name": "caption"},
     "encoding": {"y": {"field": "line", "type": "ordinal", "axis": null, "scale": {"paddingInner": 0, "paddingOuter": 0}}},
     "layer": [
       {"transform": [{"filter": "datum.line > 1 && datum.line < 5"}],
        "mark": {"type": "text", "align": "left", "baseline": "middle", "font": "Open Sans", "fontSize": 18.2, "color": "#231f20", "dx": -23, "dy": -3},
        "encoding": {"text": {"field": "text"}}},
       {"transform": [{"filter": "datum.line >= 5"}],
        "mark": {"type": "text", "align": "left", "baseline": "middle", "font": "Open Sans", "fontSize": 17.4, "color": "#231f20", "dx": -23, "dy": -3},
        "encoding": {"text": {"field": "text"}}},
       {"transform": [{"filter": "datum.line == 1"}],
        "mark": {"type": "text", "align": "left", "baseline": "middle", "font": "Open Sans", "fontSize": 18.2, "color": "#231f20", "dx": 32.5, "dy": -3},
        "encoding": {"text": {"field": "text"}}},
       {"transform": [{"filter": "datum.line == 1"}],
        "mark": {"type": "text", "align": "left", "baseline": "middle", "font": "Open Sans", "fontSize": 18.2, "fontWeight": "bold", "color": "#231f20", "dx": -23, "dy": -3},
        "encoding": {"text": {"field": "fig"}}}
     ]}
  ]
}
